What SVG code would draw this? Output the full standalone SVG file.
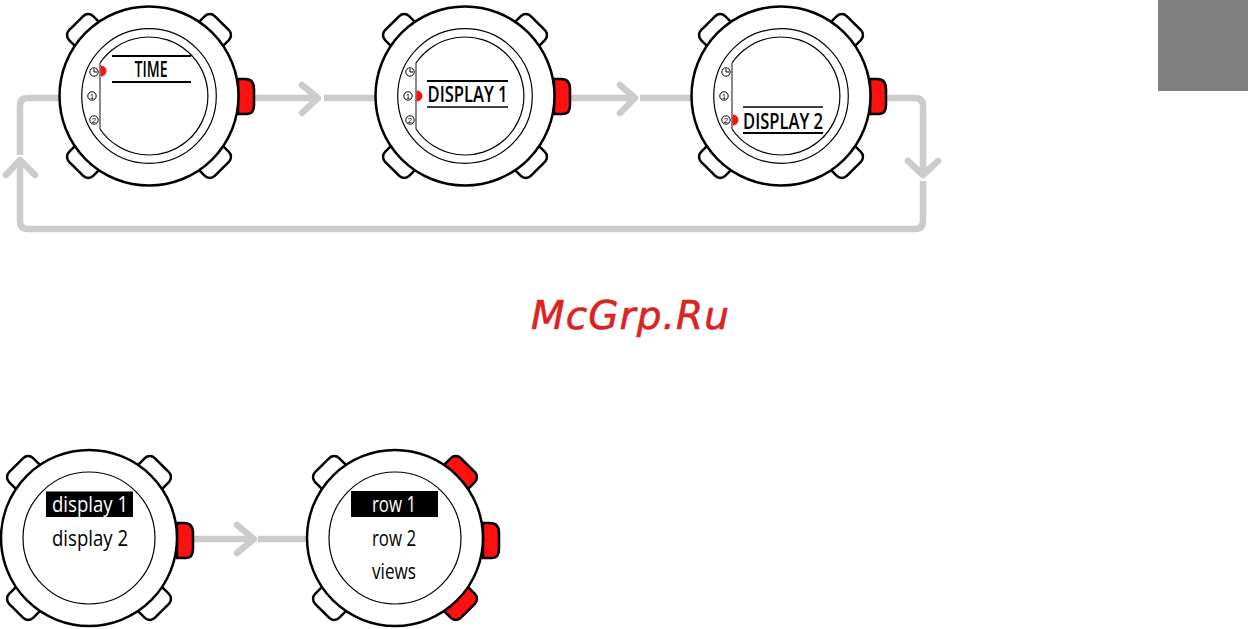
<svg xmlns="http://www.w3.org/2000/svg" width="1248" height="629" viewBox="0 0 1248 629">
<style>
.cn{fill:none;stroke:#ccc;stroke-width:6.500;stroke-linecap:round;stroke-linejoin:round}
.sg{fill:none;stroke:#ccc;stroke-width:6.500}
.t{font-family:"Open Sans","Liberation Sans",sans-serif;font-size:22px;fill:#000;text-anchor:middle}
.b{font-size:21px;font-weight:600}
.w{fill:#fff}
.ic{font-family:"Liberation Sans",sans-serif;font-size:8px;text-anchor:middle;fill:#000}
</style>
<defs>
<rect id="corner" x="-17" y="-103" width="34" height="30" rx="7" stroke="#000" stroke-width="2.5"/>
<path id="side" d="M0 -17H7Q16 -17 16 -7V9Q16 18 9 18H0Z" fill="#fd1010" stroke="#000" stroke-width="2.5"/>
<g id="topcase">
<use href="#corner" transform="rotate(-45)" fill="#fff"/>
<use href="#corner" transform="rotate(45)" fill="#fff"/>
<use href="#corner" transform="rotate(-135)" fill="#fff"/>
<use href="#corner" transform="rotate(135)" fill="#fff"/>
<use href="#side" x="89" y="0"/>
<circle r="89.5" fill="#fff" stroke="#000" stroke-width="2.5"/>
<circle r="67.3" fill="none" stroke="#000" stroke-width="1.2"/>
<path d="M-49 -33A59 59 0 1 1 -49 33" fill="none" stroke="#000" stroke-width="1.2"/>
<path d="M-49 -33V33" stroke="#555" stroke-width="1.4"/>
<g fill="none" stroke="#000" stroke-width="1"><circle cx="-55" cy="-24" r="4.200"/><path d="M-55 -27V-24H-52"/><circle cx="-57" cy="0" r="4.200"/><circle cx="-55" cy="24" r="4.200"/></g>
<text class="ic" x="-57" y="3">1</text>
<text class="ic" x="-55" y="27">2</text>
</g>
</defs>
<rect x="1158" y="0" width="90" height="91" fill="#808080"/>
<g id="connectors">
<path class="cn" d="M255 98H317M302 85L318 98L302 113"/>
<path class="sg" d="M324 98H375"/>
<path class="cn" d="M571 98H633M620 85L635 98L620 113"/>
<path class="sg" d="M640 98H691"/>
<path class="cn" d="M887 98H915Q923 98 923 106V175M908 161L923 175L938 161"/>
<path class="sg" d="M923 181V221Q923 229 915 229H28Q20 229 20 221V160"/>
<path class="cn" d="M6 175L20 160L35 175"/>
<path class="sg" d="M20 155V106Q20 98 28 98H60"/>
<path class="cn" d="M195 539H253M237 525L254 539L237 553"/>
<path class="sg" d="M258 539H307"/>
</g>
<g id="watch-time" transform="translate(149 96)">
<use href="#topcase"/>
<path d="M-48 -30A5 5 0 0 1 -48 -20Z" fill="#fd1010" stroke="#fd1010" stroke-width="1"/>
<path d="M-37 -40H42M-37 -14H42" stroke="#000" stroke-width="2"/>
<text class="t b" x="2" y="-19.500" textLength="33" lengthAdjust="spacingAndGlyphs">TIME</text>
</g>
<g id="watch-display1" transform="translate(465 96)">
<use href="#topcase"/>
<path d="M-48 -5A5 5 0 0 1 -48 5Z" fill="#fd1010" stroke="#fd1010" stroke-width="1"/>
<path d="M-38 -15H43" stroke="#000" stroke-width="2"/>
<path d="M-38 11H43" stroke="#000" stroke-width="1.3"/>
<text class="t b" x="2.500" y="5.500" textLength="80" lengthAdjust="spacingAndGlyphs">DISPLAY 1</text>
</g>
<g id="watch-display2" transform="translate(781 96)">
<use href="#topcase"/>
<path d="M-48 19A5 5 0 0 1 -48 29Z" fill="#fd1010" stroke="#fd1010" stroke-width="1"/>
<path d="M-38 11H42" stroke="#000" stroke-width="1.3"/>
<path d="M-38 37H42" stroke="#000" stroke-width="2"/>
<text class="t b" x="2" y="32.500" textLength="80" lengthAdjust="spacingAndGlyphs">DISPLAY 2</text>
</g>
<g id="watch-menu" transform="translate(89 538)">
<use href="#corner" transform="rotate(-45)" fill="#fff"/>
<use href="#corner" transform="rotate(45)" fill="#fff"/>
<use href="#corner" transform="rotate(-135)" fill="#fff"/>
<use href="#corner" transform="rotate(135)" fill="#fff"/>
<use href="#side" x="88" y="2"/>
<circle r="88" fill="#fff" stroke="#000" stroke-width="2.5"/>
<circle r="66" fill="none" stroke="#000" stroke-width="1.2"/>
<rect x="-43" y="-46.500" width="87" height="25.500"/>
<text class="t w" x="1" y="-26.500" textLength="76" lengthAdjust="spacingAndGlyphs">display 1</text>
<text class="t" x="1" y="7.500" textLength="76" lengthAdjust="spacingAndGlyphs">display 2</text>
</g>
<g id="watch-rows" transform="translate(395 538)">
<use href="#corner" transform="rotate(-45)" fill="#fff"/>
<use href="#corner" transform="rotate(45)" fill="#fd1010"/>
<use href="#corner" transform="rotate(-135)" fill="#fff"/>
<use href="#corner" transform="rotate(135)" fill="#fd1010"/>
<use href="#side" x="88" y="2"/>
<circle r="88" fill="#fff" stroke="#000" stroke-width="2.5"/>
<circle r="66" fill="none" stroke="#000" stroke-width="1.2"/>
<rect x="-44" y="-47" width="87" height="26"/>
<text class="t w" x="-1" y="-26.500" textLength="44" lengthAdjust="spacingAndGlyphs">row 1</text>
<text class="t" x="-1" y="7.500" textLength="44" lengthAdjust="spacingAndGlyphs">row 2</text>
<text class="t" x="-1" y="41" textLength="44" lengthAdjust="spacingAndGlyphs">views</text>
</g>
<text x="531" y="329" font-family="'DejaVu Sans',sans-serif" font-style="oblique" font-size="39" fill="#dd2222" stroke="#dd2222" stroke-width="0.6" textLength="198">McGrp.Ru</text>
</svg>
